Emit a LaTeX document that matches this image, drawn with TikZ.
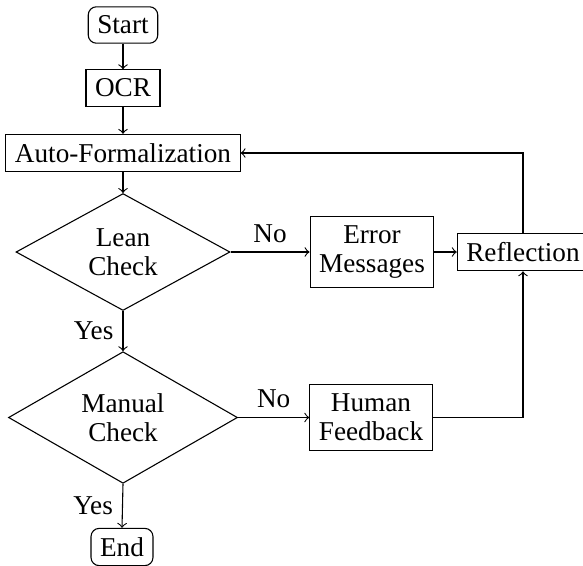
\documentclass[tikz,border=0pt]{standalone}
\usepackage{fontspec}
\setmainfont{Liberation Serif}
\usetikzlibrary{shapes.geometric}
\begin{document}
\begin{tikzpicture}[x=0.3676pt,y=-0.3676pt,
  every node/.style={font=\fontsize{10}{10.8}\selectfont},
  box/.style={draw,rectangle,align=center,inner sep=0.333em},
  term/.style={draw,rectangle,rounded corners=3pt,inner sep=0.333em},
  decision/.style={draw,diamond,align=center,inner sep=0pt},
  conn/.style={->,line width=0.4pt}]
\useasboundingbox (0,0) rectangle (583,565);
\node[term] (start) at (123,25) {Start};
\node[box] (ocr) at (123,88) {OCR};
\node[box] (af) at (123,153) {Auto-Formalization};
\node[decision,minimum width=214*0.3676pt,minimum height=107*0.3676pt] (lean) at (123,252) {Lean\\Check};
\node[box] (err) at (372,252) {Error\\Messages};
\node[box] (refl) at (523,252) {Reflection};
\node[decision,minimum width=229*0.3676pt,minimum height=114*0.3676pt] (manual) at (123,417.5) {Manual\\Check};
\node[box] (hf) at (371,417.5) {Human\\Feedback};
\node[term] (end) at (122,547) {End};
\coordinate (loopup) at (523,153);
\coordinate (loopdown) at (523,417.5);
\draw[conn] (start) -- (ocr);
\draw[conn] (ocr) -- (af);
\draw[conn] (af) -- (lean);
\draw[conn] (lean.east) -- node[midway,above] (no1) {No} (err.west);
\draw[conn] (err) -- (refl);
\draw[conn] (lean.south) -- node[midway,left] (yes1) {Yes} (manual.north);
\draw[conn] (manual.east) -- node[midway,above] (no2) {No} (hf.west);
\draw[conn] (manual.south) -- node[midway,left] (yes2) {Yes} (end.north);
\draw[conn] (refl.north) -- (loopup) -- (af.east);
\draw[conn] (hf.east) -- (loopdown) -- (refl.south);
\end{tikzpicture}
\end{document}
